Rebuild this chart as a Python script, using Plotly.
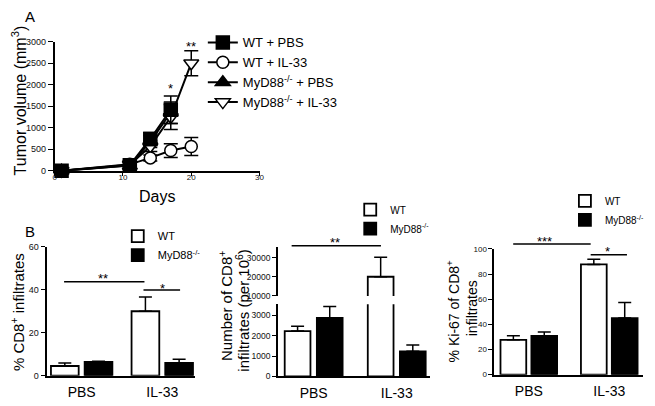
import plotly.graph_objects as go

FONT = "Liberation Sans, Arial, Helvetica, sans-serif"
W, H = 655, 406

# ---------------- Panel A: tumour growth ----------------
days_pbs = [1, 11, 14, 17]
days_il33 = [1, 11, 14, 17, 20]
wt_pbs = [0, 130, 740, 1420]
wt_pbs_err = [30, 100, 150, 320]
wt_il33 = [0, 150, 300, 470, 565]
wt_il33_err = [30, 80, 70, 160, 210]
myd_pbs = [0, 120, 680, 1350]
myd_pbs_err = [30, 90, 140, 250]
myd_il33 = [0, 140, 570, 1250, 2500]
myd_il33_err = [30, 100, 120, 290, 290]
a_ticks_x = [0, 10, 20, 30]
a_ticks_y = [0, 500, 1000, 1500, 2000, 2500, 3000]
a_stars = [(17, 1973, "*"), (20, 2948, "**")]

# ---------------- Panel B ----------------
groups = ["PBS", "IL-33"]
b1_wt = [4.5, 30.0]
b1_wt_err = [1.4, 6.7]
b1_myd = [6.4, 5.9]
b1_myd_err = [0.3, 1.7]

b2_wt = [2230, 20000]
b2_wt_err = [240, 10200]
b2_myd = [2880, 1235]
b2_myd_err = [570, 305]
b2_ticks_lo = [0, 1000, 2000, 3000]
b2_ticks_hi = [10000, 20000, 30000]

b3_wt = [27.7, 87.6]
b3_wt_err = [3.3, 4.1]
b3_myd = [30.8, 45.0]
b3_myd_err = [3.2, 12.4]

# significance marks: (x0, x1, y, label, label_x, label_y) in data units
b1_sig = [(-0.218, 0.779, 43.8, "**", 0.26, 46.5), (0.767, 1.221, 39.9, "*", 1.0, 41.8)]
b2_sig = [(-0.265, 0.81, 36190, "**", 0.26, 39240)]
b3_sig = [(-0.194, 0.769, 103.9, "***", 0.2, 108.5), (0.769, 1.22, 95.3, "*", 0.975, 100.0)]

# axis ranges
A_X = [0, 30]
A_Y = [0, 3000]
B1_X = [-0.436, 1.405]
B1_Y = [0, 60]
B2_X = [-0.429, 1.405]
B2_YLO = [0, 3560]
B2_YHI = [10000, 35400]
B3_X = [-0.428, 1.424]
B3_Y = [0, 100]


def fx(px):
    return px / W


def fy(py):
    return 1 - py / H


def dom(v, rng):
    return (v - rng[0]) / (rng[1] - rng[0])


fig = go.Figure()

LW = 2
a_series = [
    ("MyD88<sup>-/-</sup> + PBS", days_pbs, myd_pbs, myd_pbs_err, "triangle-up", "black", 3),
    ("MyD88<sup>-/-</sup> + IL-33", days_il33, myd_il33, myd_il33_err, "triangle-down", "white", 4),
    ("WT + IL-33", days_il33, wt_il33, wt_il33_err, "circle", "white", 2),
    ("WT + PBS", days_pbs, wt_pbs, wt_pbs_err, "square", "black", 1),
]
for name, xs, ys, es, sym, fill, rank in a_series:
    fig.add_trace(go.Scatter(
        x=xs, y=ys, name=name, mode="lines+markers",
        line=dict(color="black", width=LW),
        marker=dict(symbol=sym, size=13 if sym != "circle" else 12, color=fill,
                    line=dict(color="black", width=1.5)),
        error_y=dict(type="data", array=es, visible=True, color="black",
                     thickness=1.5, width=7),
        legend="legend", legendrank=rank, cliponaxis=False,
        xaxis="x", yaxis="y",
    ))


def add_bars(wt, wte, myd, myde, xa, ya, leg, show=True, bw=0.33, gap=0.07):
    fig.add_trace(go.Bar(
        x=groups, y=wt, name="WT", width=bw, offset=-bw - gap / 2,
        marker=dict(color="white", line=dict(color="black", width=1.8)),
        error_y=dict(type="data", array=wte, arrayminus=[0] * len(wt), symmetric=False,
                     color="black", thickness=1.5, width=6.5),
        xaxis=xa, yaxis=ya, legend=leg, showlegend=show,
    ))
    fig.add_trace(go.Bar(
        x=groups, y=myd, name="MyD88<sup>-/-</sup>", width=bw, offset=gap / 2,
        marker=dict(color="black", line=dict(color="black", width=1.8)),
        error_y=dict(type="data", array=myde, arrayminus=[0] * len(myd), symmetric=False,
                     color="black", thickness=1.5, width=6.5),
        xaxis=xa, yaxis=ya, legend=leg, showlegend=show,
    ))


add_bars(b1_wt, b1_wt_err, b1_myd, b1_myd_err, "x2", "y2", "legend2", bw=0.344, gap=0.074)
add_bars(b2_wt, b2_wt_err, b2_myd, b2_myd_err, "x3", "y3", "legend3", bw=0.31, gap=0.077)
add_bars(b2_wt, b2_wt_err, b2_myd, b2_myd_err, "x4", "y4", "legend3", show=False, bw=0.31, gap=0.077)
add_bars(b3_wt, b3_wt_err, b3_myd, b3_myd_err, "x5", "y5", "legend4", bw=0.32, gap=0.064)

axis_common = dict(showline=True, linecolor="black", linewidth=1.8, showgrid=False,
                   zeroline=False, ticks="outside", tickcolor="black", tickwidth=1.2,
                   tickfont=dict(family=FONT, size=9, color="#111"))

cat_x = dict(axis_common, type="category", categoryorder="array", categoryarray=groups,
             ticks="", tickfont=dict(family=FONT, size=14, color="black"),
             ticklabelstandoff=3)

fig.update_layout(
    width=W, height=H, margin=dict(l=0, r=0, t=0, b=0),
    paper_bgcolor="white", plot_bgcolor="white",
    font=dict(family=FONT, color="black"),
    barmode="overlay",
    xaxis=dict(axis_common, domain=[fx(53.3), fx(260.3)], range=A_X, tickvals=a_ticks_x,
               ticklen=3, anchor="y", tickfont=dict(family=FONT, size=8, color="#111"),
               ticklabelstandoff=-5),
    yaxis=dict(axis_common, domain=[fy(170), fy(37.6)], range=A_Y, tickvals=a_ticks_y,
               ticklen=5, anchor="x"),
    xaxis2=dict(cat_x, domain=[fx(45), fx(195)], range=B1_X, anchor="y2"),
    yaxis2=dict(axis_common, domain=[fy(380), fy(248)], range=B1_Y, dtick=20, ticklen=4,
                anchor="x2"),
    xaxis3=dict(cat_x, domain=[fx(279), fx(433)], range=B2_X, anchor="y3"),
    yaxis3=dict(axis_common, domain=[fy(380.7), fy(306.7)], range=B2_YLO,
                tickvals=b2_ticks_lo, tickformat="d", ticklen=4, anchor="x3",
                tickfont=dict(family=FONT, size=8.5, color="#111")),
    xaxis4=dict(domain=[fx(279), fx(433)], range=B2_X, anchor="y4", matches="x3",
                type="category", visible=False),
    yaxis4=dict(axis_common, domain=[fy(298.3), fy(248.3)], range=B2_YHI,
                tickvals=b2_ticks_hi, tickformat="d", ticklen=4, anchor="x4",
                tickfont=dict(family=FONT, size=8.5, color="#111")),
    xaxis5=dict(cat_x, domain=[fx(497.7), fx(648.3)], range=B3_X, anchor="y5"),
    yaxis5=dict(axis_common, domain=[fy(379), fy(250)], range=B3_Y, dtick=20, ticklen=4,
                anchor="x5", tickfont=dict(family=FONT, size=8, color="#111")),
    legend=dict(x=fx(203), y=fy(23), xanchor="left", yanchor="top",
                font=dict(family=FONT, size=13, color="black"), bgcolor="rgba(0,0,0,0)"),
    legend2=dict(x=fx(117), y=fy(222), xanchor="left", yanchor="top",
                 font=dict(family=FONT, size=11, color="black"), bgcolor="rgba(0,0,0,0)"),
    legend3=dict(x=fx(352), y=fy(195), xanchor="left", yanchor="top",
                 font=dict(family=FONT, size=10, color="black"), bgcolor="rgba(0,0,0,0)"),
    legend4=dict(x=fx(569), y=fy(186), xanchor="left", yanchor="top",
                 font=dict(family=FONT, size=10, color="black"), bgcolor="rgba(0,0,0,0)"),
    showlegend=True,
)

ann = []
shapes = []


def txt(x, y, s, size, angle=0, **kw):
    d = dict(x=x, y=y, xref="paper", yref="paper", text=s, showarrow=False,
             textangle=angle, font=dict(family=FONT, size=size, color="black"),
             xanchor="center", yanchor="middle")
    d.update(kw)
    ann.append(d)


txt(fx(28), fy(12), "A", 15)
txt(fx(28), fy(232), "B", 15)
txt(fx(157), fy(196), "Days", 16)
txt(fx(17), fy(98), "Tumor volume (mm<sup>3</sup>)", 16, -90)
txt(fx(15), fy(315), "% CD8<sup>+</sup> infiltrates", 15, -90)
txt(fx(226), fy(309), "Number of CD8<sup>+</sup>", 15, -90)
txt(fx(243), fy(313), "infiltrates (per 10<sup>6</sup>)", 15, -90)
txt(fx(456), fy(314), "% Ki-67 of CD8<sup>+</sup>", 14, -90)
txt(fx(475), fy(311), "infiltrates", 14, -90)

STAR = dict(family=FONT, size=13, color="black")
for xv, yv, s in a_stars:
    ann.append(dict(x=xv, y=yv, xref="x", yref="y", text=s, showarrow=False,
                    font=STAR, xanchor="center", yanchor="middle", yshift=-3))


def sig(items, xa, ya, rng):
    for x0, x1, yv, s, lx, ly in items:
        shapes.append(dict(type="line", xref=xa, yref=ya + " domain", x0=x0, x1=x1,
                           y0=dom(yv, rng), y1=dom(yv, rng),
                           line=dict(color="black", width=1.5)))
        ann.append(dict(x=lx, y=dom(ly, rng), xref=xa, yref=ya + " domain", text=s,
                        showarrow=False, font=STAR, xanchor="center", yanchor="middle",
                        yshift=-3))


sig(b1_sig, "x2", "y2", B1_Y)
sig(b2_sig, "x4", "y4", B2_YHI)
sig(b3_sig, "x5", "y5", B3_Y)

fig.update_layout(annotations=ann, shapes=shapes)
fig.write_html("out.html", config={"displayModeBar": False},
               post_script="document.body.style.margin='0';")
